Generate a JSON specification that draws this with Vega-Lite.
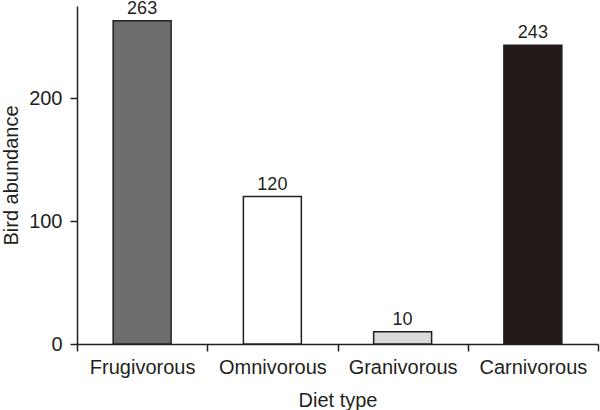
{
  "$schema": "https://vega.github.io/schema/vega-lite/v6.json",
  "width": 521,
  "height": 338,
  "autosize": {"type": "none"},
  "padding": {"left": 77, "top": 6, "right": 2, "bottom": 66},
  "background": "white",
  "config": {
    "view": {"stroke": null},
    "font": "Liberation Sans",
    "axis": {
      "domainColor": "#231f20",
      "tickColor": "#231f20",
      "labelColor": "#231f20",
      "titleColor": "#231f20",
      "domainWidth": 1.5,
      "tickWidth": 1.5,
      "tickSize": 7,
      "labelFontSize": 20,
      "titleFontSize": 20,
      "titleFontWeight": "normal",
      "grid": false
    }
  },
  "data": {
    "values": [
      {"diet": "Frugivorous", "abundance": 263},
      {"diet": "Omnivorous", "abundance": 120},
      {"diet": "Granivorous", "abundance": 10},
      {"diet": "Carnivorous", "abundance": 243}
    ]
  },
  "encoding": {
    "x": {
      "field": "diet",
      "type": "nominal",
      "sort": null,
      "scale": {"paddingInner": 0, "paddingOuter": 0},
      "axis": {"title": "Diet type", "labelAngle": 0, "tickBand": "extent", "labelPadding": 6, "titlePadding": 13}
    },
    "y": {
      "field": "abundance",
      "type": "quantitative",
      "scale": {"domain": [0, 275], "nice": false},
      "axis": {"title": "Bird abundance", "values": [0, 100, 200], "labelPadding": 8, "titlePadding": 7}
    }
  },
  "layer": [
    {
      "mark": {"type": "bar", "width": {"band": 0.445}, "stroke": "#231f20", "strokeWidth": 1.5},
      "encoding": {
        "color": {
          "field": "diet",
          "type": "nominal",
          "sort": null,
          "legend": null,
          "scale": {
            "domain": ["Frugivorous", "Omnivorous", "Granivorous", "Carnivorous"],
            "range": ["#6d6d6d", "#ffffff", "#d9dbda", "#231a17"]
          }
        }
      }
    },
    {
      "mark": {"type": "text", "baseline": "alphabetic", "dy": -7, "fontSize": 18, "color": "#231f20"},
      "encoding": {"text": {"field": "abundance", "type": "quantitative"}}
    }
  ]
}
